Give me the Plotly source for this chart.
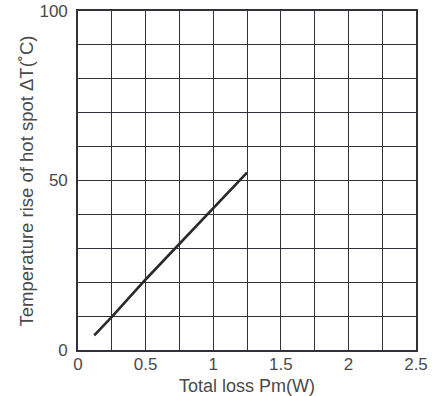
import plotly.graph_objects as go

loss_w = [0.12, 0.25, 0.5, 0.75, 1.0, 1.25]
temp_rise = [4.3, 9.8, 20.8, 31.2, 41.6, 52.3]

x_ticks = [0, 0.5, 1, 1.5, 2, 2.5]
x_tick_text = ["0", "0.5", "1", "1.5", "2", "2.5"]
y_ticks = [0, 50, 100]
y_tick_text = ["0", "50", "100"]
x_title = "Total loss Pm(W)"
y_title = "Temperature rise of hot spot ΔT(˚C)"

grid_color = "#35313a"
text_color = "#4a4a4a"
font_family = "Liberation Sans, Arial, sans-serif"

fig = go.Figure()
fig.add_trace(go.Scatter(
    x=loss_w, y=temp_rise, mode="lines",
    line=dict(color="#2a2a2a", width=2.6),
    showlegend=False, hoverinfo="skip",
))

fig.update_layout(
    width=440, height=396,
    margin=dict(l=78, r=24, t=11, b=46, autoexpand=False),
    paper_bgcolor="white", plot_bgcolor="white",
    font=dict(family=font_family, color=text_color, size=17),
    annotations=[
        dict(text=x_title, xref="paper", yref="paper", x=0.5, y=-0.105,
             xanchor="center", yanchor="middle", showarrow=False,
             font=dict(size=18, color=text_color)),
        dict(text=y_title, xref="paper", yref="paper", x=-0.151, y=0.5,
             xanchor="center", yanchor="middle", showarrow=False, textangle=-90,
             font=dict(size=18.5, color=text_color)),
    ],
)
fig.update_xaxes(
    range=[0, 2.5], tickvals=x_ticks, ticktext=x_tick_text,
    showgrid=True, gridcolor=grid_color, gridwidth=1.4,
    minor=dict(dtick=0.25, showgrid=True, gridcolor=grid_color, gridwidth=1.4),
    showline=True, linecolor=grid_color, linewidth=1.6, mirror=True,
    zeroline=False, ticks="", ticklabelstandoff=-2, automargin=False,
    tickfont=dict(size=17, color=text_color),
)
fig.update_yaxes(
    range=[0, 100], tickvals=y_ticks, ticktext=y_tick_text,
    showgrid=True, gridcolor=grid_color, gridwidth=1.4,
    minor=dict(dtick=10, showgrid=True, gridcolor=grid_color, gridwidth=1.4),
    showline=True, linecolor=grid_color, linewidth=1.6, mirror=True,
    zeroline=False, ticks="", ticklabelstandoff=5, automargin=False,
    tickfont=dict(size=17, color=text_color),
)

fig.write_html("out.html", config={"displayModeBar": False},
               post_script="document.body.style.margin='0';")
